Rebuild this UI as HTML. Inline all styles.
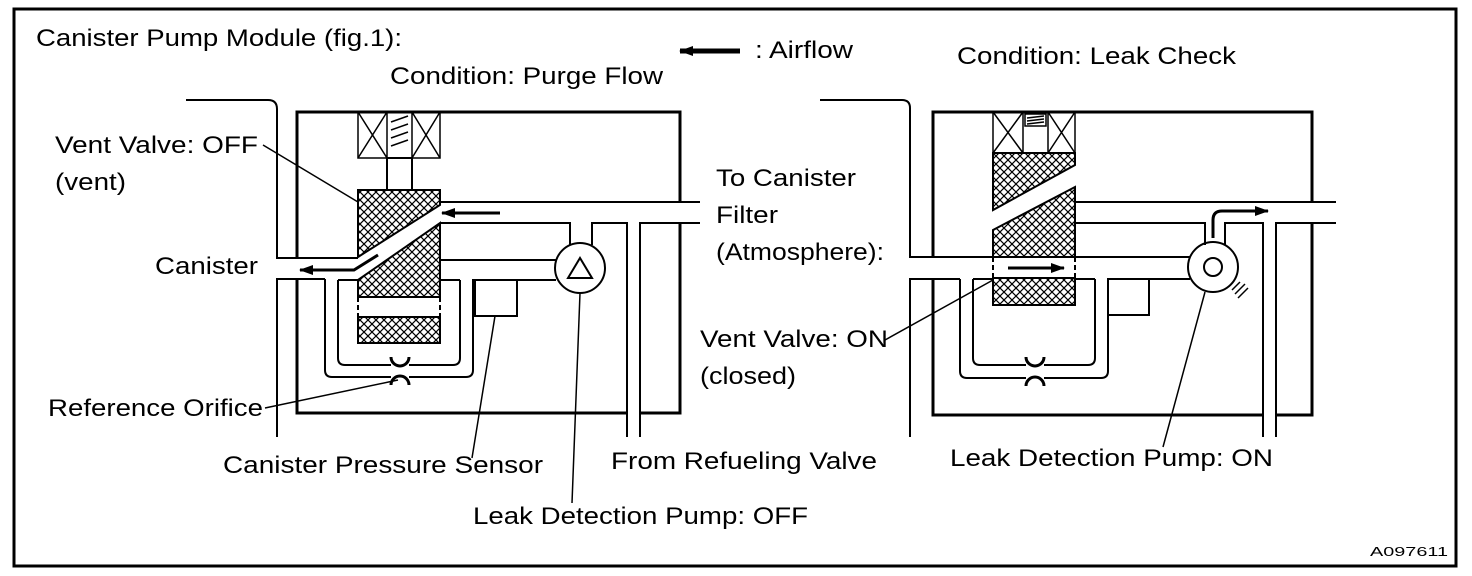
<!DOCTYPE html>
<html><head><style>
html,body{margin:0;padding:0;background:#fff;}
svg{display:block;}
text{font-family:"Liberation Sans",Arial,sans-serif;font-size:24px;fill:#000;}
</style></head><body>
<svg width="1472" height="576" viewBox="0 0 1472 576" xmlns="http://www.w3.org/2000/svg">
<defs>
<pattern id="h" width="8" height="8" patternUnits="userSpaceOnUse">
<path d="M0,0L8,8M8,0L0,8M-1,7L1,9M7,-1L9,1M-1,1L1,-1M7,9L9,7" stroke="#000" stroke-width="1.2"/>
</pattern>
<marker id="ar" markerWidth="14" markerHeight="10" refX="13" refY="5" orient="auto" markerUnits="userSpaceOnUse"><path d="M0,0L14,5L0,10Z"/></marker>
</defs>
<rect x="14" y="9" width="1442" height="557" fill="none" stroke="#000" stroke-width="3"/>

<g fill="none" stroke="#000">
<!-- LEFT MODULE -->
<g stroke-width="3">
<path d="M297,258V112H680V202M680,223V413H640M627,413H297V279"/>
</g>
<g stroke-width="2">
<path d="M186,100H268Q277,100 277,109V258H358"/>
<path d="M277,437V279H325"/>
<path d="M440,202H700M440,223H570V245M592,245V223H627V437M640,437V223H700"/>
<path d="M440,260H556M517,280H556"/>
<rect x="475" y="280" width="42" height="36"/>
<path d="M325,279V370Q325,377 332,377H391M409,377H466Q473,377 473,370V280H475"/>
<path d="M338,280V358Q338,365 345,365H391M409,365H453Q460,365 460,358V280M338,280H358M440,280H460"/>
<circle cx="580" cy="268" r="25"/>
<path d="M568,278L580,258L592,278Z"/>
</g>
<g stroke-width="1.5">
<rect x="358" y="112" width="82" height="46"/>
<path d="M387,112V158M412,112V158M358,112L387,158M387,112L358,158M412,112L440,158M440,112L412,158"/>
<path d="M391,122L408,116M391,130L408,124M391,138L408,132M391,146L408,140"/>
</g>
<rect x="387" y="158" width="25" height="32" fill="#fff" stroke="#000" stroke-width="2"/>
<path d="M358,190H440V205L358,257Z" fill="url(#h)" stroke="#000" stroke-width="2"/>
<path d="M358,280L440,223V297H358Z" fill="url(#h)" stroke="#000" stroke-width="2"/>
<rect x="358" y="317" width="82" height="26" fill="url(#h)" stroke="#000" stroke-width="2"/>
<path d="M358,297V317M440,297V317" stroke-width="2" stroke-dasharray="5,3"/>
<path d="M391,357A9,9 0 0 0 409,357M391,385A9,9 0 0 1 409,385" stroke-width="3"/>
<!-- arrows left -->
<path d="M500,213H442" stroke-width="3" marker-end="url(#ar)"/>
<path d="M378,255L354,270H300" stroke-width="3" marker-end="url(#ar)"/>
<!-- leaders left -->
<path d="M263,145L358,202M265,408L398,380M495,316L472,458M580,293L572,503" stroke-width="1.5"/>

<!-- RIGHT MODULE -->
<g stroke-width="3">
<path d="M933,257V112H1312V202M1312,223V415H1276M1263,415H933V279"/>
</g>
<g stroke-width="2">
<path d="M820,100H902Q910,100 910,108V257H993M910,437V279H960"/>
<path d="M1075,202H1336M1075,223H1205V245M1225,245V223H1263V437M1276,437V223H1336"/>
<path d="M1075,257H1190M1108,279H1190"/>
<rect x="1108" y="279" width="41" height="36"/>
<path d="M960,279V371Q960,378 967,378H1026M1044,378H1101Q1108,378 1108,371V279"/>
<path d="M973,279V358Q973,365 980,365H1026M1044,365H1088Q1095,365 1095,358V279M973,279H993M1075,279H1095"/>
<circle cx="1213" cy="267" r="25"/>
<circle cx="1213" cy="267" r="9"/>
<path d="M1232,290L1240,282M1235,294L1245,284M1238,298L1248,288" stroke-width="1.5"/>
</g>
<g stroke-width="1.5">
<rect x="993" y="112" width="82" height="41"/>
<path d="M1023,112V153M1048,112V153M993,112L1023,153M1023,112L993,153M1048,112L1075,153M1075,112L1048,153"/>
<rect x="1025" y="114" width="21" height="12"/>
<path d="M1027,118L1044,116M1027,121L1044,119M1027,124L1044,122"/>
</g>
<path d="M993,153H1075V165L993,210Z" fill="url(#h)" stroke="#000" stroke-width="2"/>
<path d="M993,230L1075,187V257H993Z" fill="url(#h)" stroke="#000" stroke-width="2"/>
<rect x="993" y="278" width="82" height="27" fill="url(#h)" stroke="#000" stroke-width="2"/>
<path d="M993,257V278M1075,257V278" stroke-width="2" stroke-dasharray="5,3"/>
<path d="M1026,357A9,9 0 0 0 1044,357M1026,386A9,9 0 0 1 1044,386" stroke-width="3"/>
<path d="M1008,268H1064" stroke-width="3" marker-end="url(#ar)"/>
<path d="M1213,238V220Q1213,211 1222,211H1268" stroke-width="3" marker-end="url(#ar)"/>
<path d="M885,340L993,280M1205,292L1163,447" stroke-width="1.5"/>

<!-- legend arrow -->
<path d="M740,51H680" stroke-width="5" marker-end="url(#ar)"/>
</g>

<text x="36" y="46" textLength="366" lengthAdjust="spacingAndGlyphs">Canister Pump Module (fig.1):</text>
<text x="755" y="58" textLength="98" lengthAdjust="spacingAndGlyphs">: Airflow</text>
<text x="390" y="84" textLength="273" lengthAdjust="spacingAndGlyphs">Condition: Purge Flow</text>
<text x="957" y="64" textLength="279" lengthAdjust="spacingAndGlyphs">Condition: Leak Check</text>
<text x="55" y="153" textLength="203" lengthAdjust="spacingAndGlyphs">Vent Valve: OFF</text>
<text x="55" y="190" textLength="71" lengthAdjust="spacingAndGlyphs">(vent)</text>
<text x="155" y="274" textLength="103" lengthAdjust="spacingAndGlyphs">Canister</text>
<text x="716" y="186" textLength="140" lengthAdjust="spacingAndGlyphs">To Canister</text>
<text x="716" y="223" textLength="62" lengthAdjust="spacingAndGlyphs">Filter</text>
<text x="716" y="260" textLength="168" lengthAdjust="spacingAndGlyphs">(Atmosphere):</text>
<text x="700" y="347" textLength="188" lengthAdjust="spacingAndGlyphs">Vent Valve: ON</text>
<text x="700" y="384" textLength="96" lengthAdjust="spacingAndGlyphs">(closed)</text>
<text x="48" y="416" textLength="215" lengthAdjust="spacingAndGlyphs">Reference Orifice</text>
<text x="223" y="473" textLength="320" lengthAdjust="spacingAndGlyphs">Canister Pressure Sensor</text>
<text x="611" y="469" textLength="266" lengthAdjust="spacingAndGlyphs">From Refueling Valve</text>
<text x="473" y="524" textLength="335" lengthAdjust="spacingAndGlyphs">Leak Detection Pump: OFF</text>
<text x="950" y="466" textLength="323" lengthAdjust="spacingAndGlyphs">Leak Detection Pump: ON</text>
<text x="1370" y="556" style="font-size:13px" textLength="78" lengthAdjust="spacingAndGlyphs">A097611</text>
</svg>
</body></html>
